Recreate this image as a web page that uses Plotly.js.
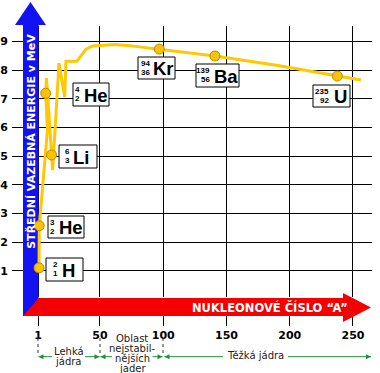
<!DOCTYPE html>
<html><head><meta charset="utf-8">
<script src="https://cdn.plot.ly/plotly-3.0.1.min.js"></script>
<style>html,body{margin:0;padding:0;background:#fff}#chart{width:380px;height:373px}</style>
</head><body><div id="chart"></div>
<script>
// ---- data ----
const curveA = [1.8, 2.0, 8.5, 7.1, 7.7, 11.7, 12.6, 17.6, 22.1, 23.1, 31.8, 34.2, 38.9, 44.5, 52.4, 61.9, 71.4, 84.0, 96.9, 140.9, 190.7, 237.6, 256.3];
const curveB = [1.10, 2.57, 5.91, 7.19, 7.72, 5.04, 4.51, 8.24, 7.06, 8.31, 8.31, 8.45, 8.73, 8.84, 8.87, 8.89, 8.86, 8.79, 8.73, 8.49, 8.16, 7.79, 7.65];
const nuclideSymbol = ['H', 'He', 'He', 'Li', 'Kr', 'Ba', 'U'];
const nuclideMass = [2, 3, 4, 6, 94, 139, 235];
const nuclideZ = [1, 2, 2, 3, 36, 56, 92];
const nuclideA = [1.8, 2.0, 7.1, 11.7, 96.9, 140.9, 237.6];
const nuclideB = [1.10, 2.57, 7.19, 5.04, 8.73, 8.49, 7.79];
const xTickVals = [1, 50, 100, 150, 200, 250];
const yTickVals = [1, 2, 3, 4, 5, 6, 7, 8, 9];
const yTitle = 'STŘEDNÍ VAZEBNÁ ENERGIE v MeV';
const xTitle = 'NUKLEONOVÉ ČÍSLO \u201cA\u201d';
const regionLight = ['Lehká', 'jádra'];
const regionStable = ['Oblast', 'nejstabil-', 'nějších', 'jader'];
const regionHeavy = 'Těžká jádra';

// ---- layout helpers (pixel geometry) ----
const W = 380, H = 373;
const PL = 12, PR = 372, PT = 26, PB = 297;
const xRange = [-19.55, 265.03];
const yRange = [0.084, 9.536];
const fx = p => (p - PL) / (PR - PL);
const fy = p => (PB - p) / (PB - PT);
const dataX = p => xRange[0] + (p - PL) / (PR - PL) * (xRange[1] - xRange[0]);
const path = pts => pts.map((p, i) => (i ? 'L' : 'M') + fx(p[0]).toFixed(5) + ',' + fy(p[1]).toFixed(5)).join(' ') + ' Z';

const BLUE = '#1212F2', RED = '#F40000', GREEN = '#1E8E3E', GOLD = '#FFC800';

// label boxes: [x0, y0, x1, y1, numbersRightEdge, symbolLeft]
const labelBoxes = [
  [46, 258, 83, 281, 58.5, 61],
  [48, 216, 84, 238, 55.5, 57.5],
  [73, 83, 109, 106, 81, 82.5],
  [59, 145, 97, 168, 70.5, 72],
  [138, 57, 175, 79, 150.5, 151.5],
  [196, 64, 239, 87, 211, 213],
  [313, 85, 350, 107, 330, 333]
];

const shapes = [];
const annotations = [];

// blue vertical arrow (body inside plot below the curve)
shapes.push({type: 'rect', layer: 'between', xref: 'x', yref: 'y',
  x0: dataX(23), x1: dataX(38.5), y0: yRange[0], y1: yRange[1],
  fillcolor: BLUE, line: {width: 0}});
shapes.push({type: 'path', layer: 'above', xref: 'paper', yref: 'paper',
  path: path([[15, 25], [30.5, 2], [46, 25], [38.5, 25], [38.5, 27], [23, 27], [23, 25]]),
  fillcolor: BLUE, line: {width: 0}});
shapes.push({type: 'path', layer: 'above', xref: 'paper', yref: 'paper',
  path: path([[23, 296], [38.5, 296], [38.5, 316], [23, 316]]),
  fillcolor: BLUE, line: {width: 0}});
// red horizontal arrow
shapes.push({type: 'path', layer: 'above', xref: 'paper', yref: 'paper',
  path: path([[38.5, 298], [343, 298], [343, 293], [371, 307.5], [343, 322], [343, 316], [23, 316]]),
  fillcolor: RED, line: {width: 0}});

annotations.push({xref: 'paper', yref: 'paper', x: fx(30.8), y: fy(141), text: yTitle, showarrow: false,
  textangle: -90, xanchor: 'center', yanchor: 'middle', borderpad: 0,
  font: {family: 'DejaVu Sans', size: 11, color: '#fff', weight: 'bold'}});
annotations.push({xref: 'paper', yref: 'paper', x: fx(269.5), y: fy(307), text: xTitle, showarrow: false,
  xanchor: 'center', yanchor: 'middle', borderpad: 0,
  font: {family: 'DejaVu Sans', size: 11.5, color: '#fff', weight: 'bold'}});

// nuclide label boxes
labelBoxes.forEach((b, i) => {
  shapes.push({type: 'rect', layer: 'above', xref: 'paper', yref: 'paper',
    x0: fx(b[0]), x1: fx(b[2]), y0: fy(b[3]), y1: fy(b[1]),
    fillcolor: '#fff', line: {color: '#000', width: 1}});
  const numFont = {family: 'Liberation Sans, Arial', size: 8, color: '#000', weight: 'bold'};
  annotations.push({xref: 'paper', yref: 'paper', x: fx(b[4]), y: fy(b[1] + 6.5), text: String(nuclideMass[i]),
    showarrow: false, xanchor: 'right', yanchor: 'middle', borderpad: 0, font: numFont});
  annotations.push({xref: 'paper', yref: 'paper', x: fx(b[4]), y: fy(b[1] + 15.5), text: String(nuclideZ[i]),
    showarrow: false, xanchor: 'right', yanchor: 'middle', borderpad: 0, font: numFont});
  annotations.push({xref: 'paper', yref: 'paper', x: fx(b[5]), y: fy((b[1] + b[3]) / 2 + 0.5), text: nuclideSymbol[i],
    showarrow: false, xanchor: 'left', yanchor: 'middle', borderpad: 0,
    font: {family: 'Liberation Sans, Arial', size: 18.5, color: '#000', weight: 'bold'}});
});

// dotted separators below the axis
[38, 100, 163].forEach(p => shapes.push({type: 'line', layer: 'above', xref: 'paper', yref: 'paper',
  x0: fx(p), x1: fx(p), y0: fy(338), y1: fy(356), line: {color: '#333', width: 1, dash: 'dot'}}));

// green arrows
const gy = 356.7;
[[38.5, 52], [85, 99.5], [100.5, 112], [152.5, 162.5], [164.5, 223], [288, 371]].forEach(s =>
  shapes.push({type: 'line', layer: 'above', xref: 'paper', yref: 'paper',
    x0: fx(s[0]), x1: fx(s[1]), y0: fy(gy), y1: fy(gy), line: {color: GREEN, width: 1}}));
const headL = t => path([[t, gy], [t + 5, gy - 2.5], [t + 5, gy + 2.5]]);
const headR = t => path([[t, gy], [t - 5, gy - 2.5], [t - 5, gy + 2.5]]);
[headL(38.5), headR(99.5), headL(100.5), headR(162.5), headL(164.5), headR(371)].forEach(p =>
  shapes.push({type: 'path', layer: 'above', xref: 'paper', yref: 'paper', path: p, fillcolor: GREEN, line: {width: 0}}));

const regFont = {family: 'DejaVu Sans', size: 10, color: '#222'};
const addText = (t, x, y) => annotations.push({xref: 'paper', yref: 'paper', x: fx(x), y: fy(y), text: t,
  showarrow: false, xanchor: 'center', yanchor: 'middle', borderpad: 0, font: regFont});
addText(regionLight[0], 68.5, 351);
addText(regionLight[1], 68.5, 361.5);
regionStable.forEach((t, i) => addText(t, 132, 338 + i * 10.2));
addText(regionHeavy, 255.5, 355.5);

const traces = [
  {x: curveA, y: curveB, type: 'scatter', mode: 'lines', line: {color: GOLD, width: 3}, hoverinfo: 'skip'},
  {x: nuclideA, y: nuclideB, type: 'scatter', mode: 'markers', hoverinfo: 'skip',
    marker: {size: 10, color: '#F8C300', line: {color: '#C08A00', width: 1}}}
];

const layout = {
  width: W, height: H, showlegend: false,
  margin: {l: PL, r: W - PR, t: PT, b: H - PB, pad: 0},
  paper_bgcolor: '#fff', plot_bgcolor: '#fff',
  font: {family: 'DejaVu Sans', color: '#000'},
  xaxis: {range: xRange, tickvals: xTickVals, ticks: 'outside', ticklen: 28, tickwidth: 1, tickcolor: '#000',
    showgrid: true, gridcolor: '#000', gridwidth: 1, zeroline: false, showline: false, automargin: false,
    tickfont: {family: 'DejaVu Sans', size: 11, color: '#000', weight: 'bold'}},
  yaxis: {range: yRange, tickvals: yTickVals, ticks: '', showgrid: true, gridcolor: '#000', gridwidth: 1,
    zeroline: false, showline: false, automargin: false, ticklabelstandoff: 3,
    tickfont: {family: 'DejaVu Sans', size: 11, color: '#000', weight: 'bold'}},
  shapes: shapes, annotations: annotations, hovermode: false
};

Plotly.newPlot('chart', traces, layout, {staticPlot: true, displayModeBar: false});
</script></body></html>
